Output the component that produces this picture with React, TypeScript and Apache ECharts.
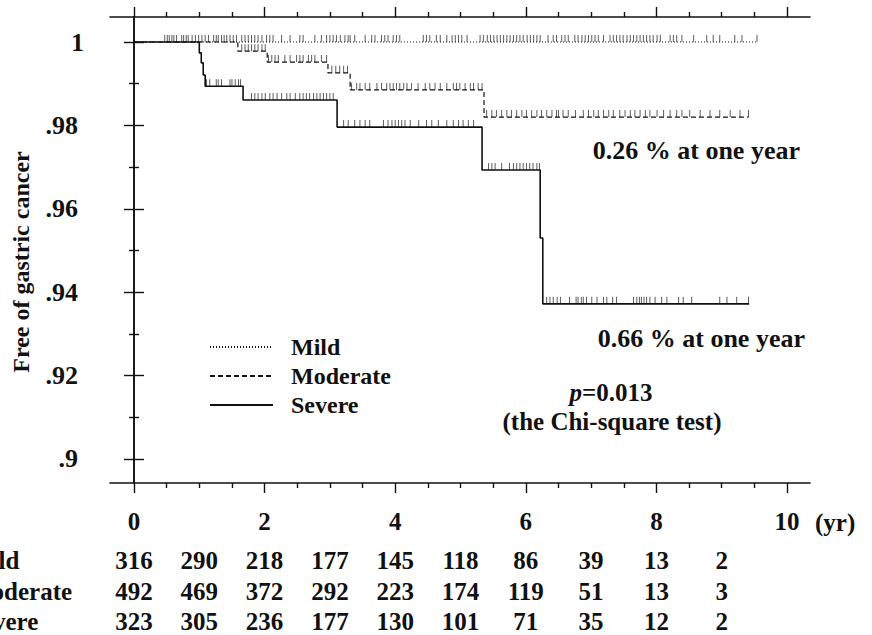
import React, { useEffect, useRef } from 'react';
import * as echarts from 'echarts';

// ---------- data ----------
const xMajorTicks = [0, 2, 4, 6, 8, 10];
const xMinorTicks = [0.5, 1, 1.5, 2.5, 3, 3.5, 4.5, 5, 5.5, 6.5, 7, 7.5, 8.5, 9, 9.5];
const yMajorTicks = [0.9, 0.92, 0.94, 0.96, 0.98, 1.0];
const yMinorTicks = [0.91, 0.93, 0.95, 0.97, 0.99];

const riskYears = [0, 1, 2, 3, 4, 5, 6, 7, 8, 9];
const mildAtRisk = [316, 290, 218, 177, 145, 118, 86, 39, 13, 2];
const moderateAtRisk = [492, 469, 372, 292, 223, 174, 119, 51, 13, 3];
const severeAtRisk = [323, 305, 236, 177, 130, 101, 71, 35, 12, 2];

// Kaplan-Meier step points (time in years, survival after the step)
const mildTimes = [0, 9.55];
const mildSurv = [1, 1];
const moderateTimes = [0, 1.59, 2.04, 2.97, 3.31, 5.36, 9.41];
const moderateSurv = [1, 0.9978, 0.9952, 0.9926, 0.9885, 0.982, 0.982];
const severeTimes = [0, 1.0, 1.03, 1.06, 1.09, 1.67, 3.11, 5.33, 6.22, 6.26, 9.42];
const severeSurv = [1, 0.9974, 0.995, 0.9921, 0.9894, 0.9861, 0.9796, 0.9693, 0.953, 0.9372, 0.9372];

// censored observations (years)
const mildCensor = [
  0.47, 0.51, 0.54, 0.58, 0.61, 0.65, 0.73, 0.76, 0.8, 0.83, 0.89, 0.94, 0.99, 1.04, 1.09, 1.14,
  1.22, 1.26, 1.29, 1.34, 1.38, 1.42, 1.47, 1.52, 1.57, 1.65, 1.7, 1.75, 1.8, 1.85, 1.9, 1.96,
  2.03, 2.08, 2.13, 2.26, 2.39, 2.54, 2.59, 2.77, 2.87, 2.95, 3.0, 3.05, 3.1, 3.16, 3.23, 3.28,
  3.31, 3.38, 3.54, 3.64, 3.69, 3.79, 3.84, 3.89, 3.97, 4.02, 4.07, 4.43, 4.48, 4.53, 4.63, 4.69,
  4.79, 4.87, 4.92, 4.97, 5.02, 5.1, 5.3, 5.35, 5.41, 5.46, 5.51, 5.56, 5.61, 5.66, 5.71, 5.76,
  5.81, 5.86, 5.91, 5.96, 6.02, 6.07, 6.12, 6.17, 6.22, 6.34, 6.42, 6.47, 6.55, 6.6, 6.65, 6.75,
  6.8, 6.86, 6.91, 6.96, 7.01, 7.06, 7.11, 7.19, 7.29, 7.34, 7.39, 7.44, 7.49, 7.55, 7.6, 7.65,
  7.7, 7.75, 7.8, 7.85, 7.9, 7.95, 8.01, 8.06, 8.21, 8.26, 8.31, 8.39, 8.57, 8.77, 8.87, 8.97,
  9.2, 9.31, 9.54,
];
const moderateCensor = [
  1.65, 1.7, 1.75, 1.8, 1.85, 1.9, 1.96, 2.01,
  2.06, 2.11, 2.16, 2.21, 2.31, 2.39, 2.49, 2.54, 2.59, 2.67, 2.72, 2.77, 2.87, 2.95,
  3.03, 3.09, 3.15, 3.21, 3.27,
  3.33, 3.41, 3.46, 3.54, 3.61, 3.72, 3.79, 3.87, 3.92, 3.97, 4.02, 4.07, 4.13, 4.18, 4.25,
  4.35, 4.46, 4.53, 4.61, 4.69, 4.79, 4.89, 4.94, 4.99, 5.07, 5.15, 5.2, 5.27, 5.33,
  5.4, 5.48, 5.55, 5.63, 5.71, 5.78, 5.86, 5.94, 6.01, 6.09, 6.17, 6.24, 6.32, 6.4, 6.47,
  6.5, 6.57, 6.65, 6.76, 6.88, 6.96, 7.04, 7.11, 7.19, 7.27, 7.34, 7.44, 7.52, 7.6, 7.67,
  7.75, 7.83, 7.9, 8.01, 8.11, 8.21, 8.31, 8.39, 8.51, 8.67, 8.82, 8.97, 9.13, 9.28, 9.41,
];
const severeCensor = [
  1.11, 1.16, 1.26, 1.29, 1.34, 1.47, 1.5, 1.55, 1.6, 1.63,
  1.8, 1.85, 1.9, 1.96, 2.01, 2.08, 2.13, 2.19, 2.26, 2.34, 2.39, 2.47, 2.54, 2.59, 2.64,
  2.69, 2.75, 2.8, 2.85, 2.9, 2.95, 3.0, 3.05,
  3.21, 3.28, 3.38, 3.46, 3.54, 3.61, 3.82, 3.89, 3.95, 4.0, 4.05, 4.1, 4.15, 4.23, 4.36,
  4.48, 4.56, 4.66, 4.79, 4.89, 4.97, 5.04, 5.12, 5.2,
  5.43, 5.48, 5.53, 5.63, 5.75, 5.81, 5.86, 5.91, 5.96, 6.01, 6.06, 6.11, 6.17, 6.21,
  6.32, 6.37, 6.42, 6.48, 6.53, 6.67, 6.77, 6.8, 6.85, 6.88, 6.93, 7.01, 7.09, 7.19, 7.24,
  7.33, 7.39, 7.65, 7.7, 7.74, 7.77, 7.81, 7.85, 7.9, 7.98, 8.08, 8.16, 8.34, 8.41, 8.54,
  8.97, 9.08, 9.23, 9.41,
];

// ---------- helpers ----------
const FONT = "'Liberation Serif', 'Times New Roman', serif";
const INK = '#111';

function levelAt(times: number[], surv: number[], t: number) {
  let v = surv[0];
  for (let i = 0; i < times.length; i++) if (times[i] <= t) v = surv[i];
  return v;
}

const X_MIN = -0.3675;
const X_MAX = 10.352;
const Y_MIN = 0.89424;
const Y_MAX = 1.006;

export default function App() {
  const ref = useRef<HTMLDivElement>(null);

  useEffect(() => {
    if (!ref.current) return;
    const chart = echarts.init(ref.current, undefined, { renderer: 'svg' });

    const baseX = {
      type: 'value',
      min: X_MIN,
      max: X_MAX,
      splitLine: { show: false },
    };
    const baseY = {
      type: 'value',
      min: Y_MIN,
      max: Y_MAX,
      splitLine: { show: false },
    };
    const frameLine = { show: true, lineStyle: { color: INK, width: 1.6 } };
    const tickStyle = { color: INK, width: 1.4 };

    const riskAxis = (counts: number[], offset: number) => ({
      ...baseX,
      position: 'bottom',
      offset,
      axisLine: { show: false },
      axisTick: { show: false },
      axisLabel: {
        show: true,
        customValues: riskYears,
        margin: 0,
        fontSize: 25,
        fontWeight: 'bold',
        fontFamily: FONT,
        color: INK,
        verticalAlign: 'middle',
        formatter: (v: number) => String(counts[Math.round(v)]),
      },
    });

    const makeCensor = (name: string, times: number[], surv: number[], cens: number[]) => ({
      name,
      type: 'scatter',
      symbol: 'rect',
      symbolSize: [1, 7],
      symbolOffset: [0, '-50%'],
      itemStyle: { color: '#333' },
      data: cens.map((t) => [t, levelAt(times, surv, t)]),
      z: 2,
      silent: true,
    });

    const makeLine = (name: string, times: number[], surv: number[], type: any, width: number, z: number) => ({
      name,
      type: 'line',
      step: 'end',
      symbol: 'none',
      showSymbol: false,
      lineStyle: { color: INK, width, type },
      itemStyle: { color: INK },
      data: times.map((t, i) => [t, surv[i]]),
      z,
      silent: true,
    });

    const yLabelFormatter = (v: number) => {
      if (Math.abs(v - 1) < 1e-9) return '{one|1}';
      const s = (+v.toFixed(2)).toString().replace(/^0/, '');
      return '{dec|' + s + '}';
    };

    chart.setOption({
      animation: false,
      backgroundColor: '#ffffff',
      grid: { left: 110, right: 62, top: 17, bottom: 152, containLabel: false },
      legend: {
        data: ['Mild', 'Moderate', 'Severe'],
        orient: 'vertical',
        left: 204,
        top: 330,
        itemWidth: 63,
        itemHeight: 12,
        itemGap: 5,
        selectedMode: false,
        itemStyle: { opacity: 0 },
        textStyle: {
          fontSize: 24,
          fontWeight: 'bold',
          fontFamily: FONT,
          color: INK,
          padding: [0, 0, 0, 13],
        },
      },
      xAxis: [
        {
          ...baseX,
          position: 'bottom',
          axisLine: frameLine,
          axisTick: { show: true, customValues: xMajorTicks, length: 10, lineStyle: tickStyle },
          axisLabel: {
            show: true,
            customValues: xMajorTicks,
            margin: 26,
            fontSize: 25,
            fontWeight: 'bold',
            fontFamily: FONT,
            color: INK,
            formatter: (v: number) => String(v),
          },
        },
        {
          ...baseX,
          position: 'bottom',
          axisLine: { show: false },
          axisTick: { show: true, customValues: xMinorTicks, length: 5, lineStyle: tickStyle },
          axisLabel: { show: false },
        },
        {
          ...baseX,
          position: 'top',
          axisLine: frameLine,
          axisTick: { show: true, customValues: xMajorTicks, length: 10, lineStyle: tickStyle },
          axisLabel: { show: false },
        },
        {
          ...baseX,
          position: 'top',
          axisLine: { show: false },
          axisTick: { show: true, customValues: xMinorTicks, length: 5, lineStyle: tickStyle },
          axisLabel: { show: false },
        },
        riskAxis(mildAtRisk, 77),
        riskAxis(moderateAtRisk, 108),
        riskAxis(severeAtRisk, 138),
      ],
      yAxis: [
        {
          ...baseY,
          position: 'left',
          axisLine: frameLine,
          axisTick: { show: true, customValues: yMajorTicks, length: 10, lineStyle: tickStyle },
          axisLabel: {
            show: true,
            customValues: yMajorTicks,
            margin: 26,
            fontSize: 26,
            fontWeight: 'bold',
            fontFamily: FONT,
            color: INK,
            formatter: yLabelFormatter,
            rich: {
              one: { fontSize: 26, fontWeight: 'bold', fontFamily: FONT, color: INK },
              dec: { fontSize: 26, fontWeight: 'bold', fontFamily: FONT, color: INK, padding: [0, 6, 0, 0] },
            },
          },
        },
        {
          ...baseY,
          position: 'left',
          axisLine: { show: false },
          axisTick: { show: true, customValues: yMinorTicks, length: 5, lineStyle: tickStyle },
          axisLabel: { show: false },
        },
        {
          ...baseY,
          position: 'right',
          axisLine: frameLine,
          axisTick: { show: true, customValues: yMajorTicks, length: 10, lineStyle: tickStyle },
          axisLabel: { show: false },
        },
        {
          ...baseY,
          position: 'right',
          axisLine: { show: false },
          axisTick: { show: true, customValues: yMinorTicks, length: 5, lineStyle: tickStyle },
          axisLabel: { show: false },
        },
      ],
      series: [
        makeLine('Mild', mildTimes, mildSurv, [1, 2], 1.1, 3),
        makeLine('Moderate', moderateTimes, moderateSurv, [5, 3], 1.2, 4),
        makeLine('Severe', severeTimes, severeSurv, 'solid', 1.6, 5),
        makeCensor('Mild censored', mildTimes, mildSurv, mildCensor),
        makeCensor('Moderate censored', moderateTimes, moderateSurv, moderateCensor),
        makeCensor('Severe censored', severeTimes, severeSurv, severeCensor),
      ],
      graphic: [
        {
          type: 'text',
          x: 21,
          y: 262,
          rotation: Math.PI / 2,
          style: {
            text: 'Free of gastric cancer',
            fontSize: 24,
            fontWeight: 'bold',
            fontFamily: FONT,
            fill: INK,
            align: 'center',
            verticalAlign: 'middle',
          },
        },
        {
          type: 'text',
          x: 815,
          y: 522,
          style: { text: '(yr)', fontSize: 25, fontWeight: 'bold', fontFamily: FONT, fill: INK, align: 'left', verticalAlign: 'middle' },
        },
        {
          type: 'text',
          x: -32,
          y: 560,
          style: { text: 'Mild', fontSize: 25, fontWeight: 'bold', fontFamily: FONT, fill: INK, align: 'left', verticalAlign: 'middle' },
        },
        {
          type: 'text',
          x: -32,
          y: 591,
          style: { text: 'Moderate', fontSize: 25, fontWeight: 'bold', fontFamily: FONT, fill: INK, align: 'left', verticalAlign: 'middle' },
        },
        {
          type: 'text',
          x: -32,
          y: 621,
          style: { text: 'Severe', fontSize: 25, fontWeight: 'bold', fontFamily: FONT, fill: INK, align: 'left', verticalAlign: 'middle' },
        },
        {
          type: 'text',
          x: 800,
          y: 150,
          style: { text: '0.26 % at one year', fontSize: 26, fontWeight: 'bold', fontFamily: FONT, fill: INK, align: 'right', verticalAlign: 'middle' },
        },
        {
          type: 'text',
          x: 805,
          y: 338,
          style: { text: '0.66 % at one year', fontSize: 26, fontWeight: 'bold', fontFamily: FONT, fill: INK, align: 'right', verticalAlign: 'middle' },
        },
        {
          type: 'text',
          x: 611,
          y: 392,
          style: {
            text: '{i|p}=0.013',
            fontSize: 25,
            fontWeight: 'bold',
            fontFamily: FONT,
            fill: INK,
            align: 'center',
            verticalAlign: 'middle',
            rich: {
              i: { fontSize: 25, fontWeight: 'bold', fontStyle: 'italic', fontFamily: FONT, fill: INK },
            },
          },
        },
        {
          type: 'text',
          x: 612,
          y: 421,
          style: { text: '(the Chi-square test)', fontSize: 25, fontWeight: 'bold', fontFamily: FONT, fill: INK, align: 'center', verticalAlign: 'middle' },
        },
      ],
    });

    return () => chart.dispose();
  }, []);

  return (
    <div
      ref={ref}
      style={{ position: 'absolute', left: 0, top: 0, width: 872, height: 635, background: '#fff' }}
    />
  );
}
